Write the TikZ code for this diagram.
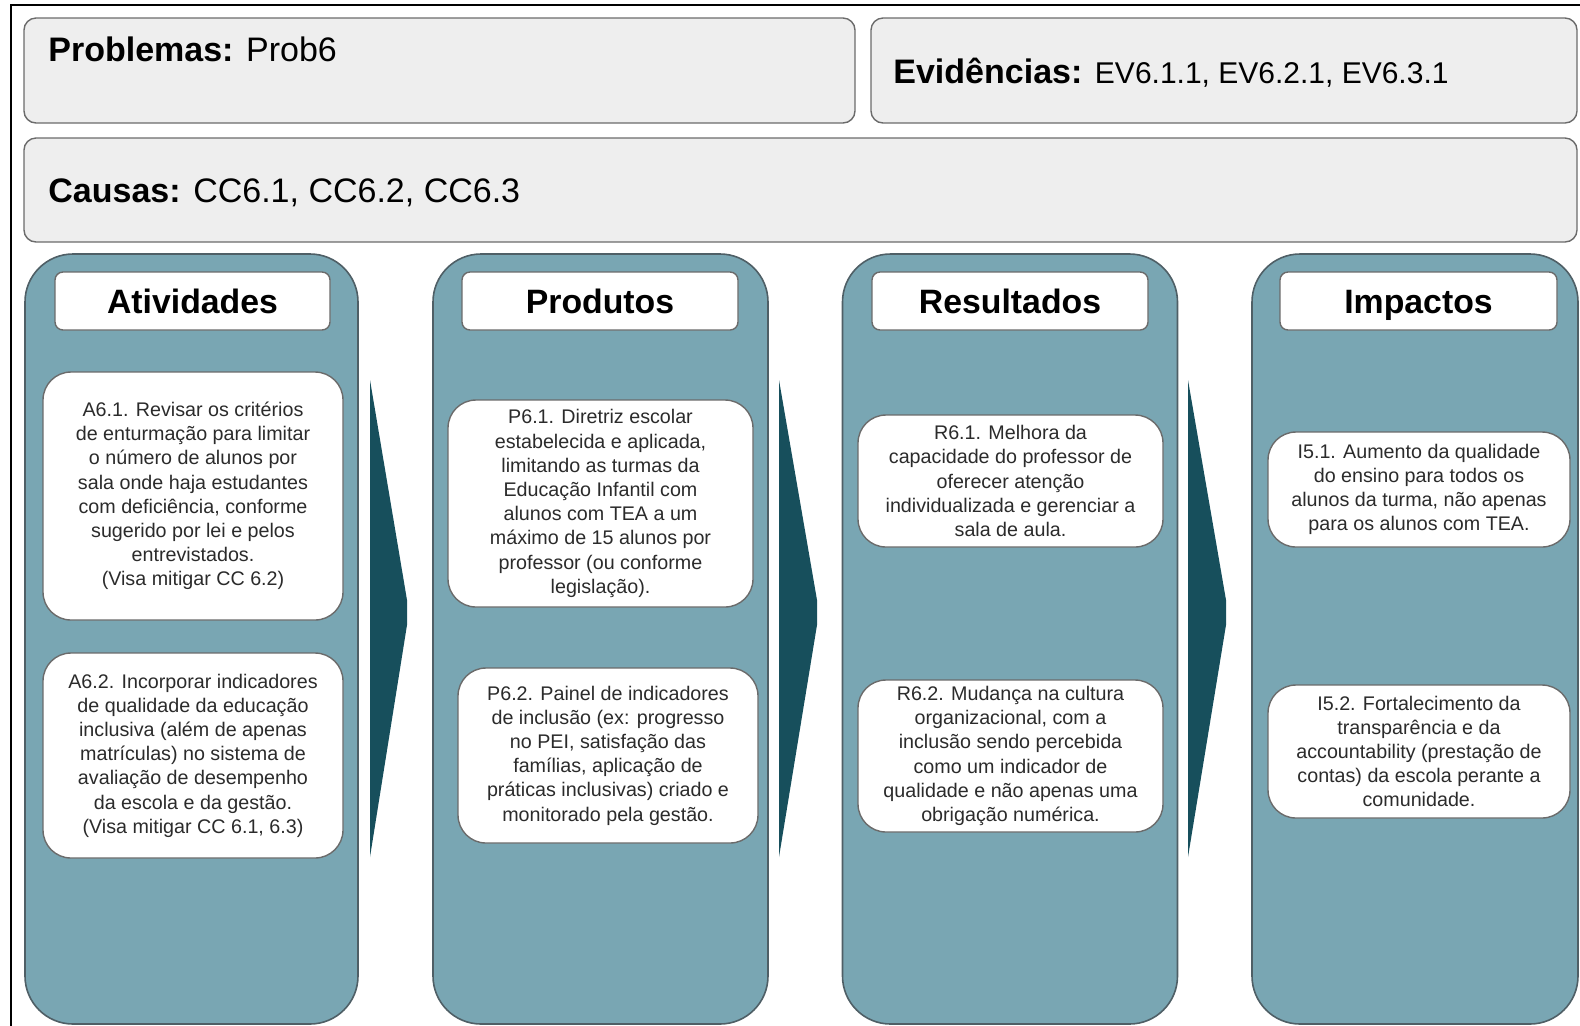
\documentclass[tikz,border=0pt]{standalone}
\usepackage{fontspec}
\setmainfont{Liberation Sans}
\definecolor{colfill}{HTML}{79A6B3}
\definecolor{colborder}{HTML}{4F5F66}
\definecolor{arrowc}{HTML}{174F5C}
\definecolor{topfill}{HTML}{EEEEEE}
\definecolor{edge}{HTML}{6B6B6B}
\definecolor{textc}{HTML}{2B2B2B}
\begin{document}
\begin{tikzpicture}[x=0.5pt,y=-0.5pt,
  topbox/.style={draw=edge, line width=0.7pt, fill=topfill, rounded corners=6pt, inner sep=0pt},
  toptext/.style={anchor=base west, inner sep=0pt, text=black},
  column/.style={draw=colborder, line width=0.8pt, fill=colfill, rounded corners=24pt, inner sep=0pt, minimum height=385pt},
  header/.style={draw=edge, line width=0.7pt, fill=white, rounded corners=4pt, inner sep=0pt, minimum height=29pt, text height=12.3pt, text depth=0pt, font=\fontsize{16.9}{20}\selectfont\bfseries},
  item/.style={draw=edge, line width=0.7pt, fill=white, rounded corners=14pt, inner sep=0pt, align=center, font=\fontsize{9.85}{12.1}\selectfont, text=textc},
  chev/.style={fill=arrowc, draw=none}]
\useasboundingbox (0,0) rectangle (1580,1025);
\clip (0,0) rectangle (1580,1025);
% outer frame
\draw[line width=1pt] (11,5) rectangle (1620,1060);

% top boxes
\node[topbox, minimum width=415.5pt, minimum height=52.5pt] (prob) at (439.5,70.5) {};
\node[topbox, minimum width=353pt, minimum height=52.5pt] (evid) at (1224,70.5) {};
\node[topbox, minimum width=776.5pt, minimum height=52pt] (caus) at (800.5,190) {};
\node[toptext, font=\fontsize{17}{20}\selectfont] (probtxt) at (48,61.5) {\textbf{Problemas:} Prob6};
\node[toptext, font=\fontsize{17}{20}\selectfont] (evidtxt) at (893,83.6) {\textbf{Evidências:} {\fontsize{15}{18}\selectfont EV6.1.1, EV6.2.1, EV6.3.1}};
\node[toptext, font=\fontsize{17}{20}\selectfont] (caustxt) at (48,202.5) {\textbf{Causas:} {\fontsize{17}{20}\selectfont CC6.1, CC6.2, CC6.3}};

% columns
\node[column, minimum width=166.5pt] (col1) at (191.5,639) {};
\node[column, minimum width=167.5pt] (col2) at (600.5,639) {};
\node[column, minimum width=167.5pt] (col3) at (1010,639) {};
\node[column, minimum width=163pt] (col4) at (1415,639) {};

% headers
\node[header, minimum width=137.5pt] (h1) at (192.5,301) {Atividades};
\node[header, minimum width=138pt] (h2) at (600,301) {Produtos};
\node[header, minimum width=138pt] (h3) at (1010,301) {Resultados};
\node[header, minimum width=138.5pt] (h4) at (1418.5,301) {Impactos};

% chevron arrows
\path[chev] (370,380) coordinate (a1t) -- (407,600) -- (407,625) -- (370,857) coordinate (a1b) -- cycle;
\path[chev] (779,380) coordinate (a2t) -- (817,600) -- (817,625) -- (779,857) coordinate (a2b) -- cycle;
\path[chev] (1188,380) coordinate (a3t) -- (1226,600) -- (1226,625) -- (1188,857) coordinate (a3b) -- cycle;

% items
\node[item, minimum width=150pt, minimum height=124pt] (a61) at (193,496) {A6.1. Revisar os critérios\\de enturmação para limitar\\o número de alunos por\\sala onde haja estudantes\\com deficiência, conforme\\sugerido por lei e pelos\\entrevistados.\\(Visa mitigar CC 6.2)};
\node[item, minimum width=150pt, minimum height=102.5pt] (a62) at (193,755.5) {A6.2. Incorporar indicadores\\de qualidade da educação\\inclusiva (além de apenas\\matrículas) no sistema de\\avaliação de desempenho\\da escola e da gestão.\\(Visa mitigar CC 6.1, 6.3)};
\node[item, minimum width=152.5pt, minimum height=103.5pt] (p61) at (600.5,503.5) {P6.1. Diretriz escolar\\estabelecida e aplicada,\\limitando as turmas da\\Educação Infantil com\\alunos com TEA a um\\máximo de 15 alunos por\\professor (ou conforme\\legislação).};
\node[item, minimum width=150pt, minimum height=87.5pt] (p62) at (608,755.5) {P6.2. Painel de indicadores\\de inclusão (ex: progresso\\no PEI, satisfação das\\famílias, aplicação de\\práticas inclusivas) criado e\\monitorado pela gestão.};
\node[item, minimum width=152.5pt, minimum height=66pt] (r61) at (1010.5,481) {R6.1. Melhora da\\capacidade do professor de\\oferecer atenção\\individualizada e gerenciar a\\sala de aula.};
\node[item, minimum width=152.5pt, minimum height=76pt] (r62) at (1010.5,756) {R6.2. Mudança na cultura\\organizacional, com a\\inclusão sendo percebida\\como um indicador de\\qualidade e não apenas uma\\obrigação numérica.};
\node[item, minimum width=151pt, minimum height=57.5pt] (i51) at (1419,489.5) {I5.1. Aumento da qualidade\\do ensino para todos os\\alunos da turma, não apenas\\para os alunos com TEA.};
\node[item, minimum width=151pt, minimum height=66.5pt] (i52) at (1419,751.5) {I5.2. Fortalecimento da\\transparência e da\\accountability (prestação de\\contas) da escola perante a\\comunidade.};
\end{tikzpicture}
\end{document}
